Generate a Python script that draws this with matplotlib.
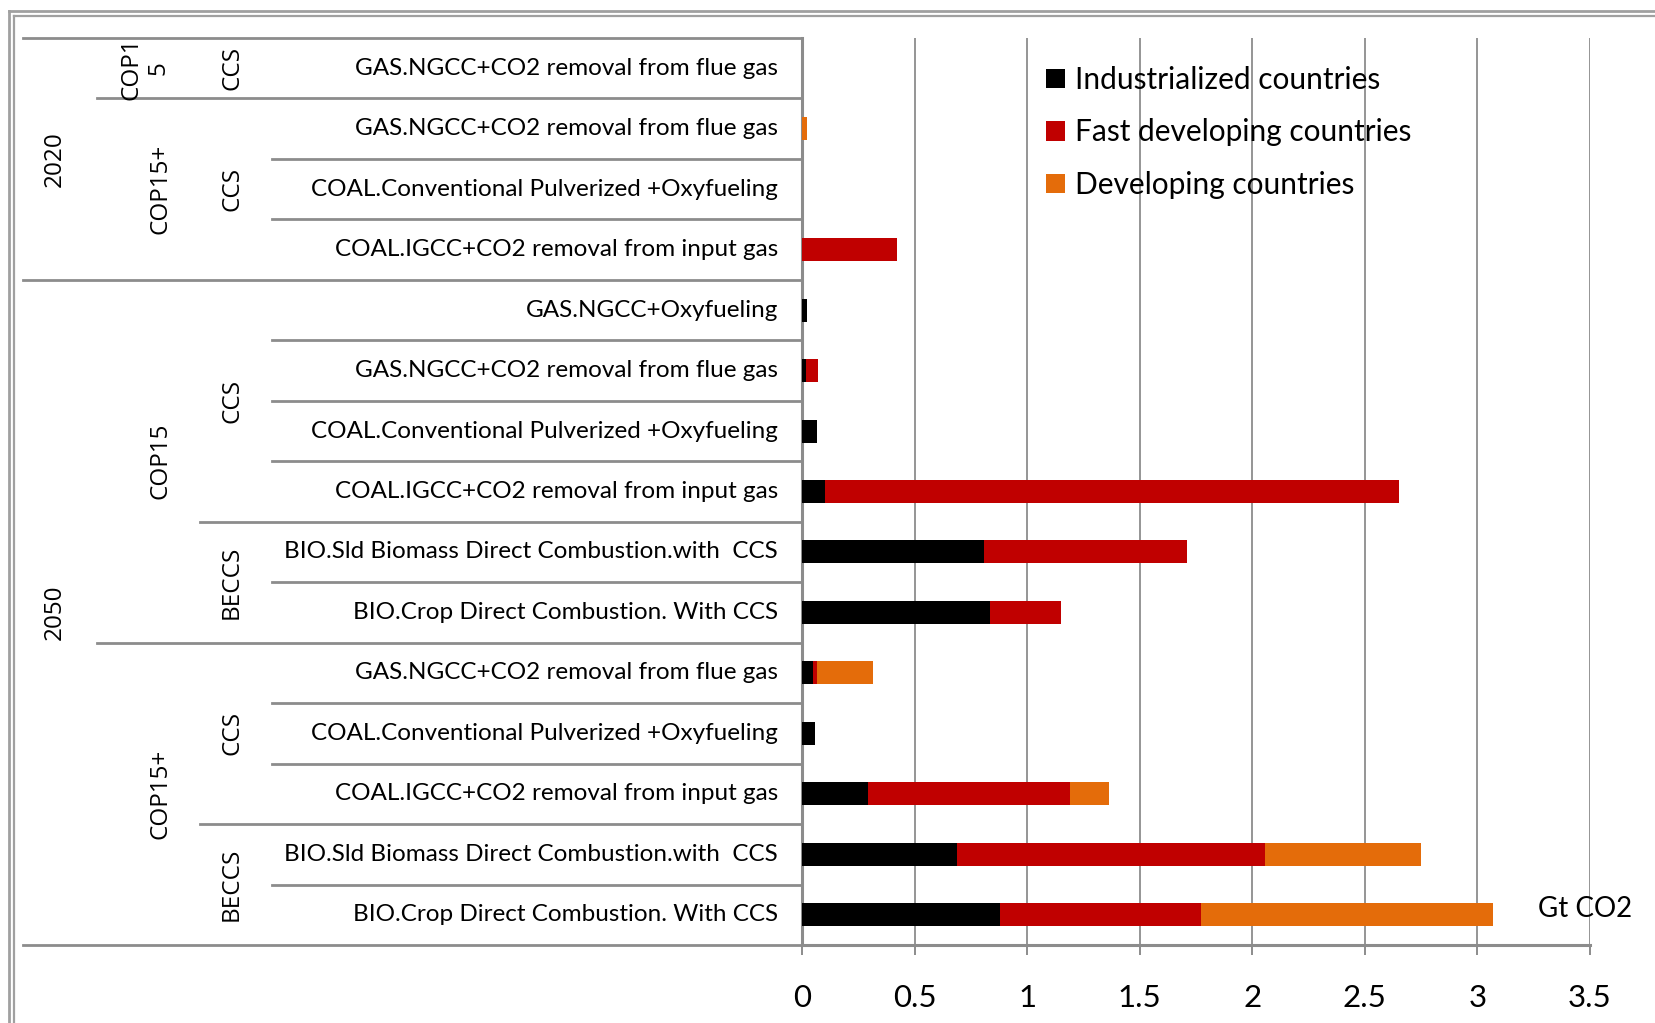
import matplotlib
matplotlib.use("Agg")
import matplotlib.pyplot as plt
from matplotlib.lines import Line2D
from matplotlib.transforms import blended_transform_factory
import numpy as np

# ---------------- data ----------------
technologies = [
    "GAS.NGCC+CO2 removal from flue gas",
    "GAS.NGCC+CO2 removal from flue gas",
    "COAL.Conventional Pulverized +Oxyfueling",
    "COAL.IGCC+CO2 removal from input gas",
    "GAS.NGCC+Oxyfueling",
    "GAS.NGCC+CO2 removal from flue gas",
    "COAL.Conventional Pulverized +Oxyfueling",
    "COAL.IGCC+CO2 removal from input gas",
    "BIO.Sld Biomass Direct Combustion.with  CCS",
    "BIO.Crop Direct Combustion. With CCS",
    "GAS.NGCC+CO2 removal from flue gas",
    "COAL.Conventional Pulverized +Oxyfueling",
    "COAL.IGCC+CO2 removal from input gas",
    "BIO.Sld Biomass Direct Combustion.with  CCS",
    "BIO.Crop Direct Combustion. With CCS",
]
years = ["2020"] * 4 + ["2050"] * 11
scenarios = ["COP1\n5"] + ["COP15+"] * 3 + ["COP15"] * 6 + ["COP15+"] * 5
groups = ["CCS"] * 8 + ["BECCS"] * 2 + ["CCS"] * 3 + ["BECCS"] * 2

industrialized = [0.0, 0.0, 0.0, 0.0, 0.024, 0.018, 0.065, 0.104, 0.81, 0.835,
                  0.05, 0.058, 0.292, 0.69, 0.88]
fast_developing = [0.0, 0.0, 0.0, 0.42, 0.0, 0.055, 0.0, 2.549, 0.90, 0.315,
                   0.015, 0.0, 0.898, 1.366, 0.89]
developing = [0.0, 0.022, 0.0, 0.0, 0.0, 0.0, 0.0, 0.0, 0.0, 0.0,
              0.252, 0.0, 0.175, 0.694, 1.30]
series_names = ["Industrialized countries", "Fast developing countries", "Developing countries"]
x_ticks = [0, 0.5, 1, 1.5, 2, 2.5, 3, 3.5]
x_tick_labels = ["0", "0.5", "1", "1.5", "2", "2.5", "3", "3.5"]
unit_label = "Gt CO2"

# ---------------- figure ----------------
W, H = 1655, 1023
fig = plt.figure(figsize=(W / 100, H / 100), dpi=100)
fig.patch.set_facecolor("white")

def fx(px):
    return px / W

def fy(py):
    return 1 - py / H

ax_l, ax_r, ax_t, ax_b = 802, 1590, 38, 945
ax = fig.add_axes([fx(ax_l), fy(ax_b), fx(ax_r) - fx(ax_l), fy(ax_t) - fy(ax_b)])

colors = ["#000000", "#C00000", "#E46C0A"]
grid_col = "#8C8C8C"
n = len(technologies)
y = np.arange(n)
bar_h = 0.38

left = np.zeros(n)
handles = []
for vals, col, name in zip([industrialized, fast_developing, developing], colors, series_names):
    v = np.array(vals)
    b = ax.barh(y, v, left=left, height=bar_h, color=col, label=name, zorder=3)
    handles.append(b)
    left = left + v

ax.set_xlim(0, 3.5)
ax.set_ylim(n - 0.5, -0.5)
ax.set_yticks([])
ax.set_xticks(x_ticks)
ax.set_xticklabels(x_tick_labels, fontfamily="Lato", fontsize=22.5)
ax.tick_params(axis="x", direction="out", length=7, width=1.4, color=grid_col, pad=21)
ax.xaxis.grid(True, color=grid_col, linewidth=1.3, zorder=0)
for s in ["top", "right"]:
    ax.spines[s].set_visible(False)
ax.spines["left"].set_color(grid_col)
ax.spines["left"].set_linewidth(2.2)
ax.spines["bottom"].set_color(grid_col)
ax.spines["bottom"].set_linewidth(2.2)

# category separator lines (figure x, data y)
trans = blended_transform_factory(fig.transFigure, ax.transData)

def hline(yv, xstart_px, xend_px=ax_l):
    ax.add_line(Line2D([fx(xstart_px), fx(xend_px)], [yv, yv], transform=trans,
                       color=grid_col, linewidth=2.0, clip_on=False, zorder=2))

hline(-0.5, 23)
hline(n - 0.5, 23)
for k in range(1, n):
    if years[k] != years[k - 1]:
        xs = 23
    elif scenarios[k] != scenarios[k - 1]:
        xs = 97
    elif groups[k] != groups[k - 1]:
        xs = 200
    else:
        xs = 272
    hline(k - 0.5, xs)

# technology labels
for i, t in enumerate(technologies):
    ax.text(fx(778), i, t, transform=trans, ha="right", va="center",
            fontfamily="Lato", fontsize=17.5)

# spanning rotated labels
def spans(keys):
    out = []
    start = 0
    for k in range(1, n + 1):
        if k == n or keys[k] != keys[start]:
            out.append((keys[start], start, k - 1))
            start = k
    return out

year_keys = years
scen_keys = [a + "|" + b for a, b in zip(years, scenarios)]
grp_keys = [a + "|" + b for a, b in zip(scen_keys, groups)]

rot_fs = 17.5
for key, s, e in spans(year_keys):
    ax.text(fx(55), (s + e) / 2, key, transform=trans, rotation=90, ha="center",
            va="center", fontfamily="Open Sans", fontsize=rot_fs)
for key, s, e in spans(scen_keys):
    lab = key.split("|")[1]
    ax.text(fx(160 if "\n" not in lab else 145), (s + e) / 2, lab, transform=trans,
            rotation=90, ha="center", va="center", fontfamily="Open Sans",
            fontsize=rot_fs, linespacing=1.2)
for key, s, e in spans(grp_keys):
    lab = key.split("|")[2]
    ax.text(fx(232), (s + e) / 2, lab, transform=trans, rotation=90, ha="center",
            va="center", fontfamily="Open Sans", fontsize=rot_fs)

# unit label
ax.text(3.48, n - 1.1, unit_label, ha="center", va="center", fontfamily="Lato",
        fontsize=20, zorder=4)

# legend
leg = ax.legend(handles=handles, loc="upper left",
                bbox_to_anchor=(fx(1046), fy(66)), bbox_transform=fig.transFigure,
                frameon=False, prop={"family": "Lato", "size": 21.5},
                handlelength=0.62, handleheight=0.62, handletextpad=0.35,
                labelspacing=0.82, borderpad=0, borderaxespad=0)

# outer double border
for off, lw in [(9, 2.0), (14, 1.6)]:
    fig.add_artist(Line2D([fx(off), fx(off)], [fy(off + 2), 0], color="#A0A0A0",
                          linewidth=lw, transform=fig.transFigure))
    fig.add_artist(Line2D([fx(off), 1], [fy(off + 2), fy(off + 2)], color="#A0A0A0",
                          linewidth=lw, transform=fig.transFigure))

fig.savefig("out.png", dpi=100)
